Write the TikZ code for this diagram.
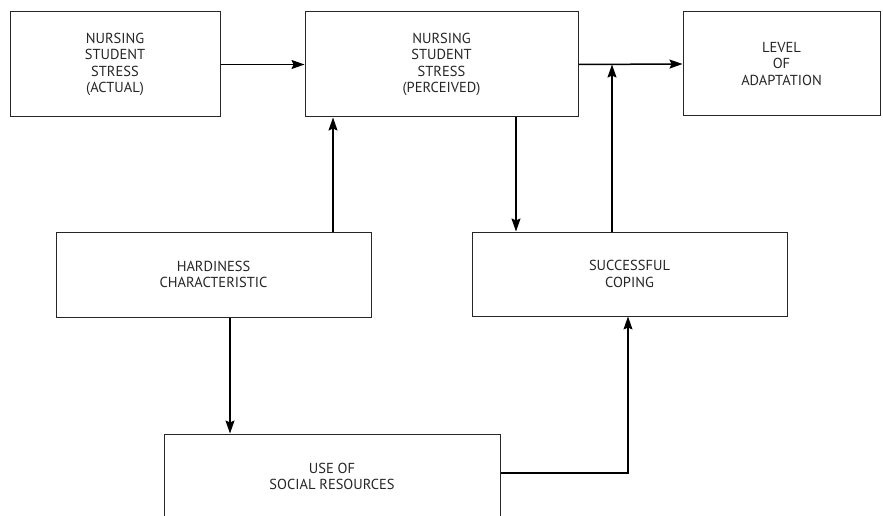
\documentclass[tikz,border=0pt]{standalone}
\usepackage{fontspec}
\setmainfont{PT Sans}
\usetikzlibrary{arrows.meta}
\begin{document}
\begin{tikzpicture}[x=1pt,y=-1pt,
  box/.style={draw=black!85,line width=1pt,rectangle,inner sep=0pt,align=center,
    font=\fontsize{14.5}{16.5}\selectfont,text=black!85},
  conn/.style={draw=black,line width=1.5pt},
  arr/.style={conn,-{Stealth[length=13pt,width=9pt,inset=2pt]}}]
\clip (0,0) rectangle (883,516);
\fill[white] (0,0) rectangle (883,516);
\node[box,minimum width=210pt,minimum height=105pt] (act) at (115,64.5) {NURSING\\STUDENT\\STRESS\\(ACTUAL)};
\node[box,minimum width=273pt,minimum height=105pt] (perc) at (441.5,64.5) {NURSING\\STUDENT\\STRESS\\(PERCEIVED)};
\node[box,minimum width=197pt,minimum height=104pt] (lev) at (781.5,64) {LEVEL\\OF\\ADAPTATION};
\node[box,minimum width=315pt,minimum height=85pt] (hard) at (213.5,274.5) {HARDINESS\\CHARACTERISTIC};
\node[box,minimum width=315pt,minimum height=84pt] (cope) at (629.5,274) {SUCCESSFUL\\COPING};
\node[box,minimum width=336pt,minimum height=85pt] (soc) at (332,476.5) {USE OF\\SOCIAL RESOURCES};
\coordinate (xa) at (333,0);
\coordinate (xb) at (516,0);
\coordinate (xc) at (612,0);
\coordinate (xd) at (230,0);
\coordinate (xe) at (628,0);
\coordinate (ye) at (0,473);
\draw[arr] (act.east) -- (perc.west);
\draw[arr] (perc.east) -- (lev.west);
\coordinate (j) at (perc.east -| xc);
\draw[arr] (cope.north -| xc) -- (j);
\draw[arr] (perc.south -| xb) -- (cope.north -| xb);
\draw[arr] (hard.north -| xa) -- (perc.south -| xa);
\draw[arr] (hard.south -| xd) -- (soc.north -| xd);
\draw[conn,line width=1.1pt,-{Stealth[length=13pt,width=9pt,inset=2pt]}] (soc.east |- ye) -| (cope.south -| xe);
\end{tikzpicture}
\end{document}
